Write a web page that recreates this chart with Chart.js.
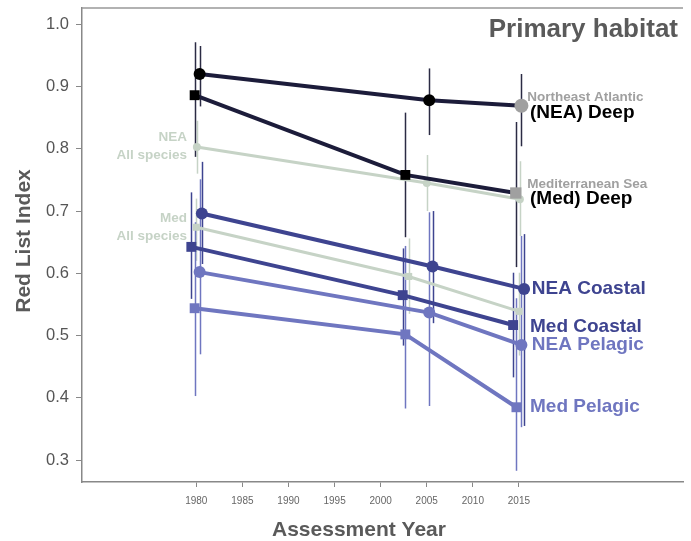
<!DOCTYPE html>
<html>
<head>
<meta charset="utf-8">
<script src="https://cdn.jsdelivr.net/npm/chart.js@4"></script>
<style>
  body { margin: 0; background: #fff; }
  #wrap { width: 691px; height: 541px; }
</style>
</head>
<body>
<div id="wrap"><canvas id="chart_wrap"></canvas></div>
<script>
// tick labels
const xTicks = [1980, 1985, 1990, 1995, 2000, 2005, 2010, 2015];
const yTicks = [0.3, 0.4, 0.5, 0.6, 0.7, 0.8, 0.9, 1.0];

// assessment years (slightly offset in the figure so bars don't overlap)
const neaDeepYears = [1980.36, 2005.27, 2015.27];
const medDeepYears = [1979.82, 2002.68, 2014.66];
const neaAllYears = [1980.06, 2005.01, 2015.10];
const medAllYears = [1980.0, 2003.04, 2015.02];
const neaCoastalYears = [1980.6, 2005.63, 2015.56];
const medCoastalYears = [1979.46, 2002.39, 2014.37];
const neaPelagicYears = [1980.36, 2005.27, 2015.27];
const medPelagicYears = [1979.82, 2002.68, 2014.73];

// Red List Index values
const neaDeep = [0.920, 0.878, 0.869];
const medDeep = [0.886, 0.758, 0.729];
const neaAll = [0.803, 0.745, 0.719];
const medAll = [0.674, 0.595, 0.539];
const neaCoastal = [0.696, 0.611, 0.575];
const medCoastal = [0.6425, 0.565, 0.517];
const neaPelagic = [0.602, 0.537, 0.485];
const medPelagic = [0.544, 0.502, 0.385];

// error bars (low, high)
const neaDeepLow = [0.868, 0.822, 0.804];
const neaDeepHigh = [0.965, 0.929, 0.920];
const medDeepLow = [0.787, 0.658, 0.610];
const medDeepHigh = [0.971, 0.858, 0.843];
const neaAllLow = [0.760, 0.700, 0.660];
const neaAllHigh = [0.845, 0.790, 0.780];
const medAllLow = [0.620, 0.535, 0.468];
const medAllHigh = [0.720, 0.656, 0.601];
const neaCoastalLow = [0.615, 0.520, 0.355];
const neaCoastalHigh = [0.779, 0.700, 0.663];
const medCoastalLow = [0.559, 0.484, 0.433];
const medCoastalHigh = [0.730, 0.640, 0.601];
const neaPelagicLow = [0.470, 0.387, 0.353];
const neaPelagicHigh = [0.751, 0.698, 0.660];
const medPelagicLow = [0.403, 0.383, 0.283];
const medPelagicHigh = [0.682, 0.644, 0.560];

const DARK = '#1c1c3a';
const MID = '#3e4490';
const LIGHT = '#6f76c0';
const GREEN = '#c6d3c6';
const GREY = '#a0a0a0';

function pts(xs, ys) {
  return xs.map((x, i) => ({ x: x, y: ys[i] }));
}

function makeSet(label, xs, ys, lo, hi, color, shape, opts) {
  return Object.assign({
    label: label,
    data: pts(xs, ys),
    low: lo,
    high: hi,
    barColor: color,
    borderColor: color,
    backgroundColor: color,
    borderWidth: 4,
    pointStyle: shape,
    pointRadius: 6,
    pointBorderWidth: 0,
    showLine: true,
    tension: 0
  }, opts || {});
}

const datasets = [
  makeSet('NEA Deep', neaDeepYears, neaDeep, neaDeepLow, neaDeepHigh, DARK, 'circle', {
    backgroundColor: ['#000', '#000', GREY], pointRadius: [6, 6, 7], barColor: '#2b2b44'
  }),
  makeSet('Med Deep', medDeepYears, medDeep, medDeepLow, medDeepHigh, DARK, 'rect', {
    backgroundColor: ['#000', '#000', GREY], pointRadius: [7, 7, 8], barColor: '#2b2b44'
  }),
  makeSet('NEA Coastal', neaCoastalYears, neaCoastal, neaCoastalLow, neaCoastalHigh, MID, 'circle'),
  makeSet('Med Coastal', medCoastalYears, medCoastal, medCoastalLow, medCoastalHigh, MID, 'rect', { pointRadius: 7 }),
  makeSet('NEA Pelagic', neaPelagicYears, neaPelagic, neaPelagicLow, neaPelagicHigh, LIGHT, 'circle'),
  makeSet('Med Pelagic', medPelagicYears, medPelagic, medPelagicLow, medPelagicHigh, LIGHT, 'rect', { pointRadius: 7 }),
  makeSet('NEA All species', neaAllYears, neaAll, neaAllLow, neaAllHigh, GREEN, 'circle', { borderWidth: 3, pointRadius: 4 }),
  makeSet('Med All species', medAllYears, medAll, medAllLow, medAllHigh, GREEN, 'rect', { borderWidth: 3, pointRadius: 5 })
];

// text labels next to the lines: [text, year, value, align, colour, font size]
const notes = [
  ['Northeast Atlantic', 2015.9, 0.883, 'left', GREY, 13.5],
  ['(NEA) Deep', 2016.2, 0.858, 'left', '#000', 19],
  ['Mediterranean Sea', 2015.9, 0.743, 'left', GREY, 13.5],
  ['(Med) Deep', 2016.2, 0.720, 'left', '#000', 19],
  ['NEA Coastal', 2016.4, 0.575, 'left', MID, 19],
  ['Med Coastal', 2016.2, 0.515, 'left', MID, 19],
  ['NEA Pelagic', 2016.4, 0.486, 'left', LIGHT, 19],
  ['Med Pelagic', 2016.2, 0.385, 'left', LIGHT, 19],
  ['NEA', 1979.0, 0.819, 'right', GREEN, 13.5],
  ['All species', 1979.0, 0.790, 'right', GREEN, 13.5],
  ['Med', 1979.0, 0.689, 'right', GREEN, 13.5],
  ['All species', 1979.0, 0.660, 'right', GREEN, 13.5]
];

const FONT = '"Liberation Sans", Arial, Helvetica, sans-serif';

const errorBars = {
  id: 'errorBars',
  beforeDatasetsDraw(chart) {
    const ctx = chart.ctx;
    const xs = chart.scales.x, ys = chart.scales.y;
    ctx.save();
    chart.data.datasets.slice().reverse().forEach(ds => {
      ctx.strokeStyle = ds.barColor;
      ctx.lineWidth = 1.5;
      ds.data.forEach((p, i) => {
        const px = Math.round(xs.getPixelForValue(p.x)) + 0.5;
        ctx.beginPath();
        ctx.moveTo(px, ys.getPixelForValue(ds.low[i]));
        ctx.lineTo(px, ys.getPixelForValue(ds.high[i]));
        ctx.stroke();
      });
    });
    ctx.restore();
  },
  afterDraw(chart) {
    const ctx = chart.ctx;
    const xs = chart.scales.x, ys = chart.scales.y;
    const area = chart.chartArea;
    ctx.save();
    // top frame line
    ctx.strokeStyle = '#999';
    ctx.lineWidth = 1.5;
    ctx.beginPath();
    ctx.moveTo(area.left, area.top);
    ctx.lineTo(area.right, area.top);
    ctx.stroke();

    ctx.textBaseline = 'middle';
    notes.forEach(n => {
      ctx.font = 'bold ' + n[5] + 'px ' + FONT;
      ctx.fillStyle = n[4];
      ctx.textAlign = n[3];
      ctx.fillText(n[0], xs.getPixelForValue(n[1]), ys.getPixelForValue(n[2]));
    });

    // panel title
    ctx.font = 'bold 26px ' + FONT;
    ctx.fillStyle = '#5a5a5a';
    ctx.textAlign = 'right';
    ctx.fillText('Primary habitat', 678, 30);

    // axis titles
    ctx.font = 'bold 21px ' + FONT;
    ctx.textAlign = 'center';
    ctx.fillText('Assessment Year', 359, 530);
    ctx.translate(24, 241);
    ctx.rotate(-Math.PI / 2);
    ctx.fillText('Red List Index', 0, 0);
    ctx.restore();
  }
};

new Chart(document.getElementById('chart_wrap').getContext('2d'), {
  type: 'scatter',
  data: { datasets: datasets },
  options: {
    responsive: true,
    maintainAspectRatio: false,
    animation: false,
    layout: { padding: { top: 8, right: 4, left: 0, bottom: 0 } },
    plugins: { legend: { display: false }, tooltip: { enabled: false } },
    scales: {
      x: {
        type: 'linear',
        min: 1967.6,
        max: 2032.8,
        afterBuildTicks: s => { s.ticks = xTicks.map(v => ({ value: v })); },
        afterFit: s => { s.height = 59; s.paddingLeft = 0; s.paddingRight = 0; },
        ticks: { color: '#666', font: { size: 10, family: FONT }, padding: 8, callback: v => String(v) },
        grid: { drawOnChartArea: false, drawTicks: true, tickLength: 5, color: '#888' },
        border: { display: true, color: '#888', width: 1.5 }
      },
      y: {
        min: 0.265,
        max: 1.026,
        afterBuildTicks: s => { s.ticks = yTicks.map(v => ({ value: v })); },
        afterFit: s => { s.width = 82; s.paddingTop = 0; s.paddingBottom = 0; },
        ticks: { color: '#555', font: { size: 16.5, family: FONT }, padding: 7, callback: v => v.toFixed(1) },
        grid: { drawOnChartArea: false, drawTicks: true, tickLength: 6, color: '#888' },
        border: { display: true, color: '#888', width: 1.5 }
      }
    }
  },
  plugins: [errorBars]
});
</script>
</body>
</html>
